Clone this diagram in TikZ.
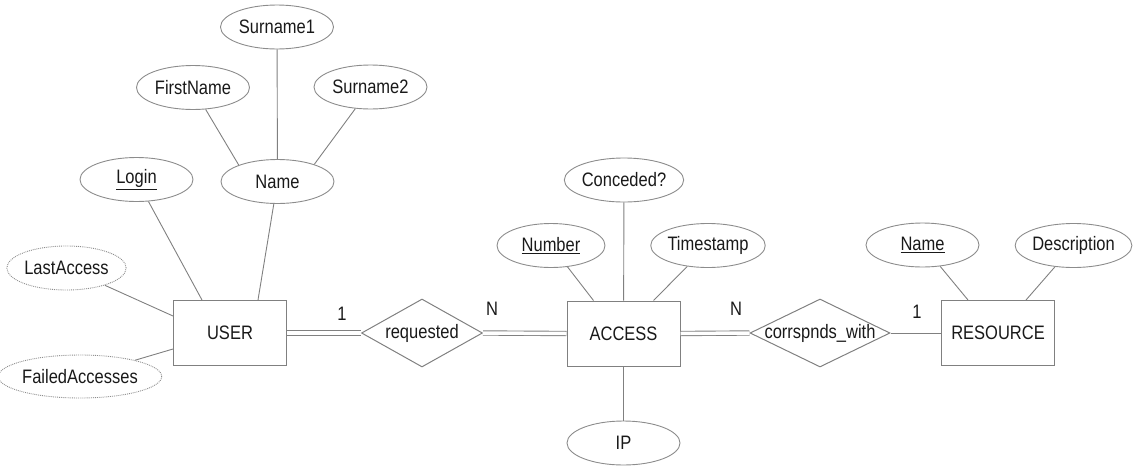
\documentclass[tikz,border=0pt]{standalone}
\usepackage{fontspec}
\setmainfont{Liberation Sans}
\usepackage{graphicx}
\usetikzlibrary{shapes.geometric,calc}
\newcommand\vtx[1]{\scalebox{1}[1.18]{#1}}
\begin{document}
\begin{tikzpicture}[x=1pt,y=-1pt,
  every node/.style={font=\fontsize{16.5}{20}\selectfont, text=black!90},
  ent/.style={draw=black!50, line width=1pt, rectangle, minimum width=113pt, minimum height=65pt, inner sep=0pt},
  att/.style={draw=black!45, ellipse, line width=0.9pt, minimum width=113pt, minimum height=44pt, inner sep=0pt},
  der/.style={att, densely dotted},
  rel/.style={draw=black!50, diamond, line width=1pt, inner sep=-2pt},
  conn/.style={draw=black!50, line width=0.9pt},
  dbl/.style={draw=black!50, line width=0.9pt, double=white, double distance=3.5pt},
  card/.style={inner sep=0pt}
]
\useasboundingbox (0,0) rectangle (1134,466);

% entities
\node[ent] (user) at (230,333) {\vtx{USER}};
\node[ent] (access) at (623.5,333.5) {\vtx{ACCESS}};
\node[ent] (resource) at (998,333) {\vtx{RESOURCE}};

% relationships
\node[rel, aspect=1.78, minimum width=121pt, minimum height=68pt] (requested) at (422,333) {\vtx{requested}};
\node[rel, aspect=2.06, minimum width=140pt, minimum height=68pt] (corr) at (820,333) {\vtx{corrspnds\_with}};

% attributes of USER
\node[att] (surname1) at (277,27) {\vtx{Surname1}};
\node[att] (firstname) at (193,87.5) {\vtx{FirstName}};
\node[att] (surname2) at (370.5,87) {\vtx{Surname2}};
\node[att] (name) at (277.5,181.5) {\vtx{Name}};
\node[att] (login) at (136.5,179.5) {\vtx{\underline{Login}}};
\node[der] (lastaccess) at (66.5,268) {\vtx{LastAccess}};
\node[der, minimum width=140pt, minimum height=43pt] (failed) at (80,376.5) {\vtx{FailedAccesses}};

% attributes of ACCESS
\node[att] (conceded) at (624,180) {\vtx{Conceded?}};
\node[att, minimum width=108pt] (number) at (551,245.5) {\vtx{\underline{Number}}};
\node[att, minimum width=112pt] (timestamp) at (708,245.5) {\vtx{Timestamp}};
\node[att] (ip) at (623.5,443) {\vtx{IP}};

% attributes of RESOURCE
\node[att] (rname) at (922.5,245) {\vtx{\underline{Name}}};
\node[att] (description) at (1073.5,245.5) {\vtx{Description}};

% cardinalities
\node[card] (c1) at (342,314) {\vtx{1}};
\node[card] (c2) at (492,309) {\vtx{N}};
\node[card] (c3) at (736,309) {\vtx{N}};
\node[card] (c4) at (917,312) {\vtx{1}};

% connectors: attributes
\draw[conn] (surname1) -- (name);
\draw[conn] (firstname.-60) -- (name.157);
\draw[conn] (surname2.-125) -- (name.25);
\draw[conn] (login) -- ($(user.north west)+(29,0)$);
\draw[conn] (name) -- ($(user.north west)+(85,0)$);
\draw[conn] (lastaccess) -- ($(user.west)+(0,-17)$);
\draw[conn] (failed) -- ($(user.west)+(0,16)$);

\draw[conn] (conceded) -- (access);
\draw[conn] (number) -- ($(access.north west)+(27,0)$);
\draw[conn] (timestamp) -- ($(access.north west)+(87,0)$);
\draw[conn] (ip) -- (access);

\draw[conn] (rname) -- ($(resource.north west)+(27,0)$);
\draw[conn] (description) -- ($(resource.north west)+(85,0)$);

% connectors: relationships
\draw[dbl] (user.east) -- (requested.west);
\draw[dbl] (requested.east) -- (access.west);
\draw[dbl] (access.east) -- (corr.west);
\draw[conn] (corr.east) -- (resource.west);
\end{tikzpicture}
\end{document}
